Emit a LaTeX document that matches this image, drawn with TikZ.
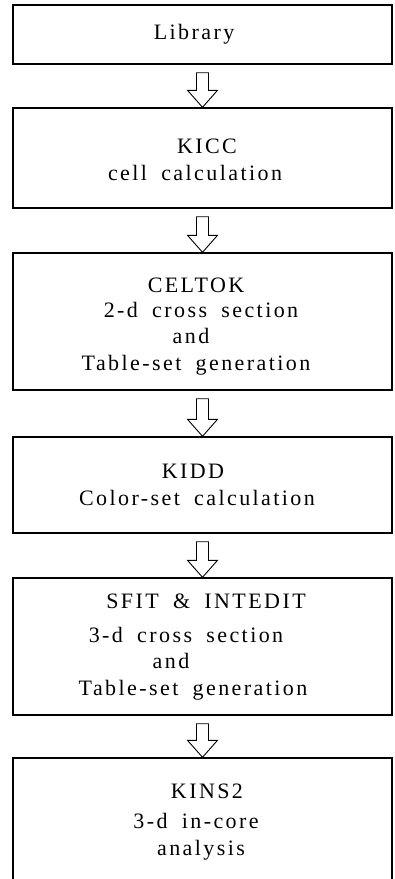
\documentclass[tikz,border=0pt]{standalone}
\usepackage{fontspec}
\setmainfont{Liberation Serif}[LetterSpace=11,WordSpace=1.8]
\usetikzlibrary{calc}
\begin{document}
\begin{tikzpicture}[x=1pt,y=-1pt,
  box/.style={draw, line width=1.4pt, minimum width=379pt, inner sep=0pt},
  txt/.style={anchor=base, inner sep=0pt, font=\fontsize{22}{26}\selectfont},
  hollow/.style={draw, line width=0.9pt, line join=miter, fill=white}]
\useasboundingbox (0,0) rectangle (395,879);
% boxes
\node[box, minimum height=59pt]  (b1) at (202.5,34.5) {};
\node[box, minimum height=100pt] (b2) at (202.5,158) {};
\node[box, minimum height=137pt] (b3) at (202.5,321.5) {};
\node[box, minimum height=96pt]  (b4) at (202.5,485) {};
\node[box, minimum height=137pt] (b5) at (202.5,646.5) {};
\node[box, minimum height=142pt] (b6) at (202.5,829) {};
% texts
\node[txt] (l1) at (194,39) {Library};
\node[txt] (l2a) at (207,153) {KICC};
\node[txt] (l2b) at (195,180) {cell calculation};
\node[txt] (l3a) at (196,292) {CELTOK};
\node[txt] (l3b) at (201,317) {2-d cross section};
\node[txt] (l3c) at (191,343) {and};
\node[txt] (l3d) at (196,370) {Table-set generation};
\node[txt] (l4a) at (193,478) {KIDD};
\node[txt] (l4b) at (197,505) {Color-set calculation};
\node[txt] (l5a) at (206,608) {SFIT \& INTEDIT};
\node[txt] (l5b) at (186,642) {3-d cross section};
\node[txt] (l5c) at (171,668) {and};
\node[txt] (l5d) at (193,695) {Table-set generation};
\node[txt] (l6a) at (207,798) {KINS2};
\node[txt] (l6b) at (196,828) {3-d in-core};
\node[txt] (l6c) at (201,855) {analysis};
% hollow block arrows
\foreach \a/\b in {b1/b2,b2/b3,b3/b4,b4/b5,b5/b6}{
  \draw[hollow] let \p1=(\a.south), \p2=(\b.north) in
    (\x1-6pt,\y1-8pt) -- (\x1+6pt,\y1-8pt) -- (\x1+6pt,\y2+17pt) --
    (\x1+15pt,\y2+17pt) -- (\x2,\y2) -- (\x1-15pt,\y2+17pt) --
    (\x1-6pt,\y2+17pt) -- cycle;
}
\end{tikzpicture}
\end{document}
